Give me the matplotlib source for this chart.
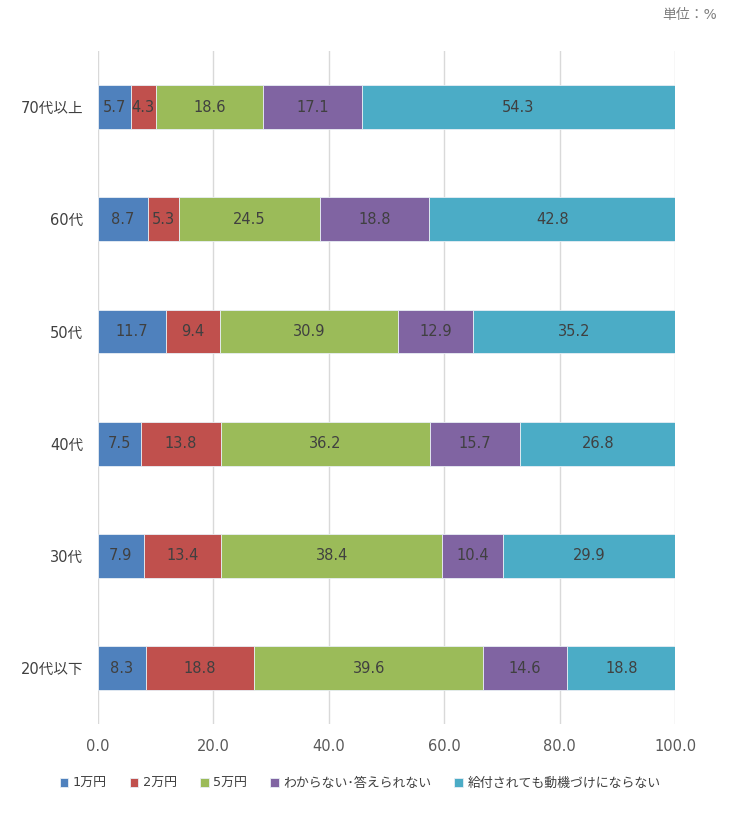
import matplotlib.pyplot as plt
import numpy as np

plt.rcParams['font.family'] = ['DejaVu Sans', 'Noto Sans CJK JP']

categories = ['70代以上', '60代', '50代', '40代', '30代', '20代以下']
series_names = ['1万円', '2万円', '5万円', 'わからない･答えられない', '給付されても動機づけにならない']
values = [
    [5.7, 8.7, 11.7, 7.5, 7.9, 8.3],
    [4.3, 5.3, 9.4, 13.8, 13.4, 18.8],
    [18.6, 24.5, 30.9, 36.2, 38.4, 39.6],
    [17.1, 18.8, 12.9, 15.7, 10.4, 14.6],
    [54.3, 42.8, 35.2, 26.8, 29.9, 18.8],
]
colors = ['#4F81BD', '#C0504D', '#9BBB59', '#8064A2', '#4BACC6']
x_ticks = [0, 20, 40, 60, 80, 100]

fig = plt.figure(figsize=(7.55, 8.23), dpi=100)
ax = fig.add_axes([0.1298, 0.120, 0.7643, 0.818])

y = np.arange(len(categories))
left = np.zeros(len(categories))
for name, vals, color in zip(series_names, values, colors):
    vals = np.array(vals)
    ax.barh(y, vals, left=left, height=0.39, color=color,
            edgecolor='#E8EEF4', linewidth=0.6, label=name, zorder=3)
    for bx, bw, by in zip(left, vals, y):
        ax.text(bx + bw / 2, by, f'{bw:.1f}', ha='center', va='center',
                fontsize=10.5, color='#404040', zorder=4)
    left += vals

ax.set_ylim(len(categories) - 0.5, -0.5)
ax.set_xlim(0, 100)
ax.set_yticks(y)
ax.set_yticklabels(categories, fontsize=10.5, color='#404040')
ax.set_xticks(x_ticks)
ax.set_xticklabels([f'{t:.1f}' for t in x_ticks], fontsize=10.5, color='#595959')
ax.tick_params(axis='both', length=0)
ax.tick_params(axis='x', pad=10.5)
ax.tick_params(axis='y', pad=10.5)
ax.grid(axis='x', color='#D9D9D9', linewidth=1, zorder=0)
for side in ['top', 'right', 'bottom', 'left']:
    ax.spines[side].set_visible(False)

fig.text(0.950, 0.982, '単位：%', ha='right', va='center', fontsize=10, color='#7F7F7F')

handles, labels = ax.get_legend_handles_labels()
fig.legend(handles, labels, loc='center', bbox_to_anchor=(0.477, 0.048), ncol=5,
           frameon=False, fontsize=9.3, handlelength=0.65, handleheight=0.65,
           handletextpad=0.35, columnspacing=1.8, labelcolor='#404040')

fig.savefig('out.png', dpi=100)
